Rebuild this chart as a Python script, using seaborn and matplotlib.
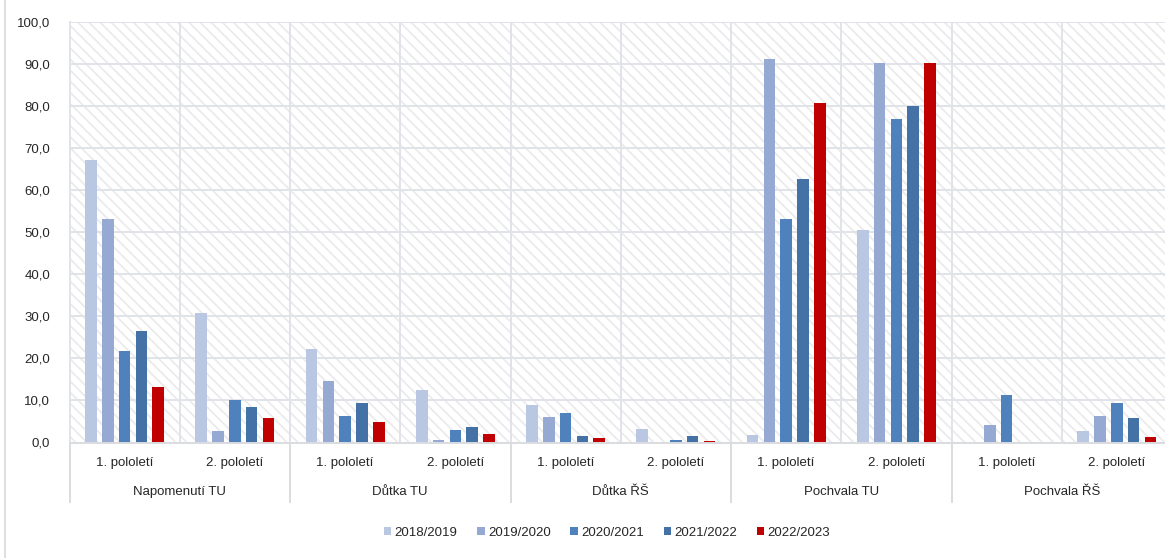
import numpy as np
import pandas as pd
import matplotlib
matplotlib.use("Agg")
import matplotlib.pyplot as plt
import matplotlib.transforms as mtransforms
from matplotlib.patches import Rectangle
from matplotlib.lines import Line2D
from matplotlib.ticker import MultipleLocator, FuncFormatter
import seaborn as sns

nan = np.nan
groups = ["Napomenutí TU", "Důtka TU", "Důtka ŘŠ", "Pochvala TU", "Pochvala ŘŠ"]
halves = ["1. pololetí", "2. pololetí"]
years = ["2018/2019", "2019/2020", "2020/2021", "2021/2022", "2022/2023"]
colors = ["#B9C7E2", "#95A9D2", "#4F81BD", "#4471A6", "#C00000"]

v2018 = [67.0, 30.7, 22.1, 12.4, 9.0, 3.2, 1.7, 50.4, nan, 2.8]
v2019 = [53.1, 2.8, 14.5, 0.6, 6.1, nan, 91.0, 90.2, 4.1, 6.3]
v2020 = [21.8, 10.1, 6.2, 3.0, 7.1, 0.6, 53.1, 76.8, 11.4, 9.4]
v2021 = [26.6, 8.5, 9.3, 3.7, 1.5, 1.6, 62.5, 80.0, nan, 5.9]
v2022 = [13.3, 5.8, 4.9, 2.0, 1.1, 0.4, 80.6, 90.1, nan, 1.4]
series = [v2018, v2019, v2020, v2021, v2022]

keys = [f"{g}|{h}" for g in groups for h in halves]
rows = []
for y, vals in zip(years, series):
    for k, v in zip(keys, vals):
        rows.append({"cat": k, "rok": y, "hodnota": v})
df = pd.DataFrame(rows)

plt.rcParams["font.family"] = ["Liberation Sans", "DejaVu Sans"]
plt.rcParams["hatch.linewidth"] = 1.3
FS = 9.5
TXT = "#262626"
GRID = "#E0E3E7"

W, H = 1165, 558
fig = plt.figure(figsize=(W / 100, H / 100), dpi=100)
left, right, top, bottom = 69.5, 1172.0, 21.5, 442.5
ax = fig.add_axes([left / W, 1 - bottom / H, (right - left) / W, (bottom - top) / H])

sns.barplot(data=df, x="cat", y="hodnota", hue="rok", order=keys, hue_order=years,
            palette=colors, width=0.76, gap=0.3, ax=ax, saturation=1, linewidth=0,
            errorbar=None, zorder=2)

ax.add_patch(Rectangle((0, 0), 1, 1, transform=ax.transAxes, facecolor="white",
                       edgecolor="#EBEBEB", hatch="\\\\\\", linewidth=0, zorder=0))

ax.set_xlim(-0.5, len(keys) - 0.5)
ax.set_ylim(0, 100)
ax.yaxis.set_major_locator(MultipleLocator(10))
ax.yaxis.set_major_formatter(FuncFormatter(lambda v, p: f"{v:.1f}".replace(".", ",")))
ax.set_axisbelow(True)
ax.yaxis.grid(True, color=GRID, linewidth=1.4, zorder=1)
ax.set_xticks(np.arange(-0.5, len(keys), 1), minor=True)
ax.xaxis.grid(True, which="minor", color=GRID, linewidth=1.4, zorder=1)
ax.xaxis.grid(False, which="major")
ax.set_xticks(range(len(keys)))
ax.set_xticklabels([])
ax.tick_params(axis="both", which="both", length=0)
ax.tick_params(axis="y", labelsize=FS, labelcolor=TXT, pad=14)
ax.set_xlabel("")
ax.set_ylabel("")
for s in ["top", "right"]:
    ax.spines[s].set_visible(False)
ax.spines["left"].set_color(GRID)
ax.spines["left"].set_linewidth(1.4)
ax.spines["bottom"].set_color("#D9DCE0")
ax.spines["bottom"].set_linewidth(1.4)

trans = mtransforms.blended_transform_factory(ax.transData, ax.transAxes)
for i, k in enumerate(keys):
    ax.text(i, -0.048, k.split("|")[1], transform=trans, ha="center", va="center",
            fontsize=FS, color=TXT)
for gi, g in enumerate(groups):
    ax.text(2 * gi + 0.5, -0.117, g, transform=trans, ha="center", va="center",
            fontsize=FS, color=TXT)
for gi in range(len(groups) + 1):
    ax.add_line(Line2D([2 * gi - 0.5, 2 * gi - 0.5], [0, -0.1406], transform=trans,
                       color="#D9DCE0", linewidth=1.4, clip_on=False))

handles, labels = ax.get_legend_handles_labels()
ax.legend(handles, labels, loc="center", bbox_to_anchor=(607 / W, 1 - 532.7 / H),
          bbox_transform=fig.transFigure, ncol=5, frameon=False, handlelength=0.55,
          handleheight=0.55, handletextpad=0.25, columnspacing=1.5, fontsize=FS,
          labelcolor=TXT)

fig.add_artist(Line2D([5 / W, 5 / W], [0, 1], transform=fig.transFigure,
                      color="#D9D9D9", linewidth=1.2))

fig.savefig("out.png", dpi=100)
